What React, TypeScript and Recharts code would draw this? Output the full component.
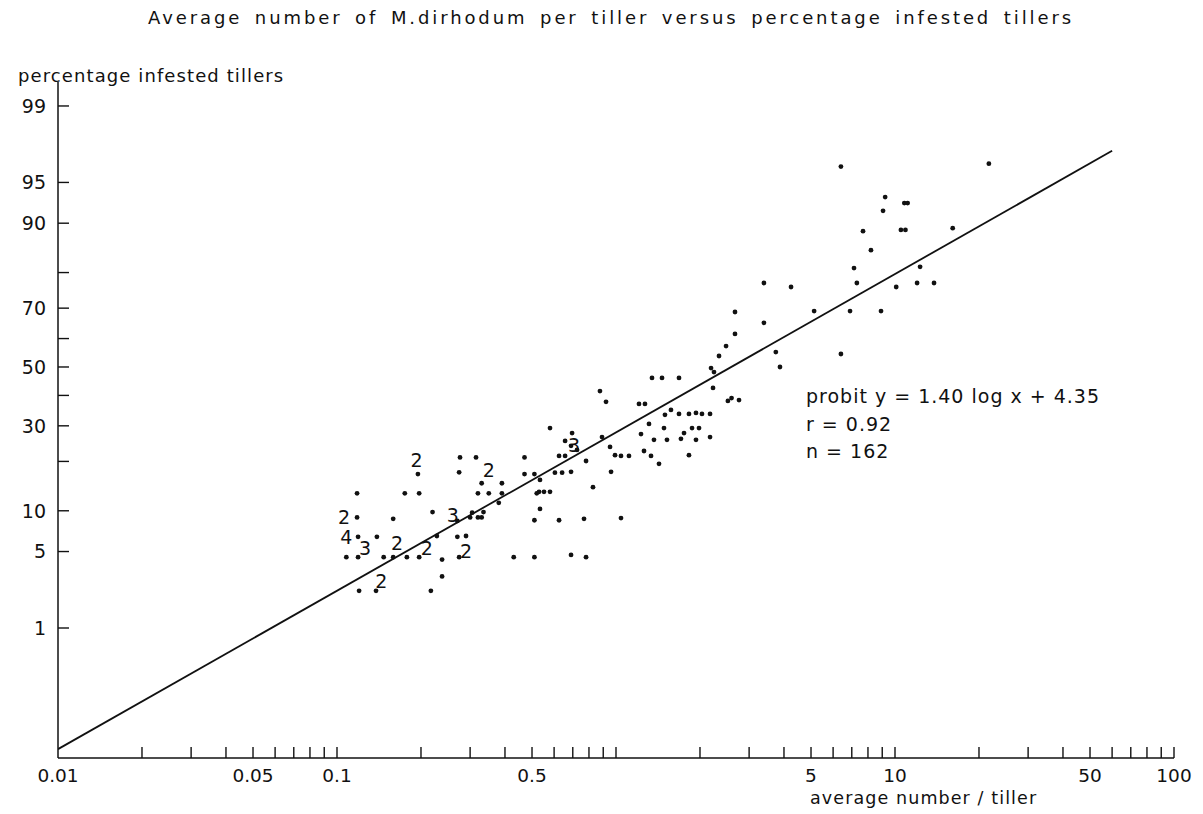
import React from 'react';
import { ComposedChart, Scatter, XAxis, YAxis } from 'recharts';

// average number of aphids per tiller (x) and percentage infested tillers (y)
const lowCluster: [number, number][] = [
  [0.195, 17], [0.276, 21], [0.315, 21], [0.274, 17.4], [0.47, 21], [0.47, 17], [0.51, 17],
  [0.118, 13], [0.175, 13], [0.197, 13], [0.33, 15], [0.39, 15], [0.32, 13], [0.35, 13], [0.39, 13], [0.38, 11.3], [0.52, 13],
  [0.118, 9], [0.159, 8.8], [0.22, 9.8], [0.27, 8.5], [0.3, 9], [0.305, 9.7], [0.32, 9], [0.33, 9], [0.335, 9.8], [0.51, 8.6],
  [0.119, 6.5], [0.139, 6.5], [0.228, 6.6], [0.27, 6.5], [0.29, 6.6],
  [0.108, 4.5], [0.119, 4.5], [0.147, 4.5], [0.159, 4.5], [0.178, 4.5], [0.197, 4.5], [0.238, 4.3], [0.274, 4.5], [0.43, 4.5], [0.51, 4.5],
  [0.238, 3.1], [0.12, 2.3], [0.138, 2.3], [0.217, 2.3],
];

const midCluster: [number, number][] = [
  [0.58, 29.3], [0.696, 27.8], [0.657, 25.5], [0.69, 24.1], [0.725, 23], [0.657, 21.4], [0.625, 21.4], [0.781, 20.1],
  [0.69, 17.5], [0.604, 17.3], [0.641, 17.3], [0.827, 14.2], [0.876, 41.5], [0.921, 37.8], [0.891, 26.6], [0.952, 23.8],
  [0.992, 21.6], [1.042, 21.4], [1.113, 21.4], [0.96, 17.5], [1.042, 8.9], [0.534, 15.7], [0.53, 13.3], [0.552, 13.3],
  [0.58, 13.3], [0.534, 10.3], [0.625, 8.6], [0.768, 8.8], [0.69, 4.7], [0.781, 4.5],
  [1.209, 37.1], [1.27, 37.1], [1.229, 27.5], [1.313, 30.6], [1.368, 25.8], [1.26, 22.7], [1.335, 21.4], [1.426, 19.4],
  [1.346, 46.1], [1.462, 46.1], [1.682, 46.1], [1.498, 33.5], [1.486, 29.3], [1.574, 35.1], [1.523, 25.8], [1.682, 33.8],
  [1.753, 27.8], [1.826, 33.8], [1.873, 29.3], [1.935, 34.1], [1.984, 29.3], [2.033, 33.8], [2.173, 33.8], [1.709, 26.1],
  [1.826, 21.6], [1.935, 25.8], [2.173, 26.6], [2.227, 42.6], [2.245, 48.2], [2.191, 49.6], [2.34, 53.9], [2.48, 57.4],
  [2.67, 68.8], [2.67, 61.6], [2.518, 38.1], [2.595, 39.1], [2.76, 38.4],
];

const highCluster: [number, number][] = [
  [3.39, 77.3], [3.39, 65.3], [3.74, 55.3], [3.87, 50], [4.24, 76.2], [5.13, 69.1], [6.4, 96.3], [6.4, 54.6],
  [6.9, 69.1], [7.13, 81.1], [7.3, 77.3], [7.68, 88.7], [8.2, 85.1], [8.91, 69.1], [9.06, 91.8], [9.22, 93.5],
  [10.1, 76.2], [10.5, 88.9], [10.8, 92.8], [10.9, 88.9], [11.1, 92.8], [12.0, 77.3], [12.3, 81.4], [13.8, 77.3],
  [16.1, 89.2], [21.7, 96.5],
];

// numbers printed next to points where several observations coincide
const countMarks: [number, number, string][] = [
  [0.193, 20.3, '2'], [0.35, 17.8, '2'], [0.106, 9.1, '2'], [0.26, 9.3, '3'], [0.108, 6.5, '4'],
  [0.126, 5.3, '3'], [0.164, 5.8, '2'], [0.21, 5.3, '2'], [0.29, 5.05, '2'], [0.144, 2.8, '2'],
  [0.707, 24.4, '3'],
];

// fitted probit line, end points
const fitLine: [number, number][] = [[0.01, 0.033], [60, 97.3]];

const xTicks = [
  0.01, 0.02, 0.03, 0.04, 0.05, 0.06, 0.07, 0.08, 0.09,
  0.1, 0.2, 0.3, 0.4, 0.5, 0.6, 0.7, 0.8, 0.9,
  1, 2, 3, 4, 5, 6, 7, 8, 9,
  10, 20, 30, 40, 50, 60, 70, 80, 90, 100,
];
const xLabels = ['0.01', '0.05', '0.1', '0.5', '5', '10', '50', '100'];
const yTickPct = [1, 5, 10, 20, 30, 40, 50, 60, 70, 80, 90, 95, 99];
const yLabels = [1, 5, 10, 30, 50, 70, 90, 95, 99];

// inverse normal cdf (Acklam) -> probit scale in z units
function probit(p: number) {
  const a = [-39.69683028665376, 220.9460984245205, -275.9285104469687, 138.357751867269, -30.66479806614716, 2.506628277459239];
  const b = [-54.47609879822406, 161.5858368580409, -155.6989798598866, 66.80131188771972, -13.28068115201927];
  const c = [-0.007784894002430293, -0.3223964580411365, -2.400758277161838, -2.549732539343734, 4.374664141464968, 2.938163982698783];
  const d = [0.007784695709041462, 0.3224671290700398, 2.445134137142996, 3.754408661907416];
  const plow = 0.02425;
  if (p < plow) {
    const q = Math.sqrt(-2 * Math.log(p));
    return (((((c[0] * q + c[1]) * q + c[2]) * q + c[3]) * q + c[4]) * q + c[5]) / ((((d[0] * q + d[1]) * q + d[2]) * q + d[3]) * q + 1);
  }
  if (p <= 1 - plow) {
    const q = p - 0.5;
    const r = q * q;
    return (((((a[0] * r + a[1]) * r + a[2]) * r + a[3]) * r + a[4]) * r + a[5]) * q / (((((b[0] * r + b[1]) * r + b[2]) * r + b[3]) * r + b[4]) * r + 1);
  }
  const q = Math.sqrt(-2 * Math.log(1 - p));
  return -(((((c[0] * q + c[1]) * q + c[2]) * q + c[3]) * q + c[4]) * q + c[5]) / ((((d[0] * q + d[1]) * q + d[2]) * q + d[3]) * q + 1);
}

const toRows = (arr: [number, number][]) => arr.map(([x, pct]) => ({ x, z: probit(pct / 100) }));
const points = [...toRows(lowCluster), ...toRows(midCluster), ...toRows(highCluster)];
const fitRows = toRows(fitLine);
const markRows = countMarks.map(([x, pct, n]) => ({ x, z: probit(pct / 100), n }));
const yTicks = yTickPct.map((p) => probit(p / 100));

const FONT = '"DejaVu Sans", sans-serif';
const INK = '#111';

const XTick = (props: any) => {
  const { x, y, payload } = props;
  const v = payload.value;
  const lbl = xLabels.find((s) => Math.abs(parseFloat(s) - v) < 1e-9);
  return (
    <g>
      {v > 0.01 && <line x1={x} y1={y} x2={x} y2={y - 11} stroke={INK} strokeWidth={1.4} />}
      {lbl && (
        <text x={x} y={y + 24} textAnchor="middle" fontSize={18.5} fontFamily={FONT} fill={INK}>
          {lbl}
        </text>
      )}
    </g>
  );
};

const YTick = (props: any) => {
  const { x, y, index } = props;
  const pct = yTickPct[index];
  return (
    <g>
      <line x1={x} y1={y} x2={x + 11} y2={y} stroke={INK} strokeWidth={1.4} />
      {yLabels.includes(pct) && (
        <text x={x - 12} y={y} dy="0.36em" textAnchor="end" fontSize={19} fontFamily={FONT} fill={INK}>
          {pct}
        </text>
      )}
    </g>
  );
};

const Dot = (props: any) => <circle cx={props.cx} cy={props.cy} r={2.4} fill={INK} />;
const NoShape = () => <g />;
const CountText = (props: any) => (
  <text x={props.cx} y={props.cy} dy="0.36em" textAnchor="middle" fontSize={19} fontFamily={FONT} fill={INK}>
    {props.payload.n}
  </text>
);

export default function App() {
  const txt: React.CSSProperties = { position: 'absolute', fontFamily: FONT, color: INK, whiteSpace: 'nowrap' };
  return (
    <div style={{ position: 'absolute', left: 0, top: 0, width: 1203, height: 814, background: '#fff' }}>
      <ComposedChart width={1203} height={814} margin={{ top: 82, right: 29, bottom: 0, left: 0 }}>
        <XAxis
          dataKey="x"
          type="number"
          scale="log"
          domain={[0.01, 100]}
          allowDataOverflow
          ticks={xTicks}
          interval={0}
          tickSize={0}
          tickMargin={0}
          tickLine={false}
          tick={<XTick />}
          axisLine={{ stroke: INK, strokeWidth: 1.5 }}
          height={56}
        />
        <YAxis
          dataKey="z"
          type="number"
          domain={[-3.485, 2.54]}
          allowDataOverflow
          ticks={yTicks}
          interval={0}
          tickSize={0}
          tickMargin={0}
          tickLine={false}
          tick={<YTick />}
          axisLine={{ stroke: INK, strokeWidth: 1.5 }}
          width={58}
        />
        <Scatter data={fitRows} line={{ stroke: INK, strokeWidth: 1.8 }} shape={<NoShape />} isAnimationActive={false} />
        <Scatter data={points} shape={<Dot />} isAnimationActive={false} />
        <Scatter data={markRows} shape={<CountText />} isAnimationActive={false} />
      </ComposedChart>
      <div style={{ ...txt, left: 148, top: 7, fontSize: 18, letterSpacing: 2.9, wordSpacing: 4 }}>
        Average number of M.dirhodum per tiller versus percentage infested tillers
      </div>
      <div style={{ ...txt, left: 18, top: 65, fontSize: 18, letterSpacing: 1.1 }}>percentage infested tillers</div>
      <div style={{ ...txt, left: 806, top: 383, fontSize: 19, letterSpacing: 1, lineHeight: '27.5px' }}>
        probit y = 1.40 log x + 4.35
        <br />r = 0.92
        <br />n = 162
      </div>
      <div style={{ ...txt, left: 810, top: 788, fontSize: 17.5, letterSpacing: 1.1 }}>average number / tiller</div>
    </div>
  );
}
